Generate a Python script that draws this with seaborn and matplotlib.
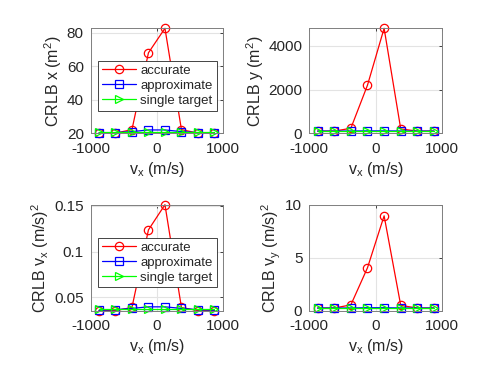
import numpy as np
import pandas as pd
import seaborn as sns
import matplotlib.pyplot as plt

# ==========================================
# DATA
# ==========================================
vx = [-875, -625, -375, -125, 125, 375, 625, 875]

crlb_x_accurate = [20.1, 20.1, 22.2, 68.0, 82.6, 22.2, 20.1, 20.1]
crlb_x_approx = [20.3, 20.4, 21.0, 22.0, 22.0, 21.0, 20.4, 20.3]
crlb_x_single = [20.6, 20.6, 20.6, 20.6, 20.6, 20.6, 20.6, 20.6]

crlb_y_accurate = [100, 100, 230, 2200, 4800, 200, 100, 100]
crlb_y_approx = [100, 100, 105, 110, 110, 105, 100, 100]
crlb_y_single = [100, 100, 100, 100, 100, 100, 100, 100]

crlb_vx_accurate = [0.0356, 0.0356, 0.0390, 0.1236, 0.1510, 0.0390, 0.0356, 0.0356]
crlb_vx_approx = [0.0360, 0.0366, 0.0380, 0.0397, 0.0397, 0.0380, 0.0366, 0.0360]
crlb_vx_single = [0.0370, 0.0370, 0.0370, 0.0370, 0.0370, 0.0370, 0.0370, 0.0370]

crlb_vy_accurate = [0.25, 0.25, 0.55, 4.05, 8.95, 0.5, 0.25, 0.25]
crlb_vy_approx = [0.25, 0.25, 0.26, 0.28, 0.28, 0.26, 0.25, 0.25]
crlb_vy_single = [0.25, 0.25, 0.25, 0.25, 0.25, 0.25, 0.25, 0.25]

series_names = ["accurate", "approximate", "single target"]

panels = [
    ("CRLB x (m$^2$)", [crlb_x_accurate, crlb_x_approx, crlb_x_single],
     (20, 82.6), [20, 40, 60, 80], ["20", "40", "60", "80"], True),
    ("CRLB y (m$^2$)", [crlb_y_accurate, crlb_y_approx, crlb_y_single],
     (0, 4800), [0, 2000, 4000], ["0", "2000", "4000"], False),
    ("CRLB v$_x$ (m/s)$^2$", [crlb_vx_accurate, crlb_vx_approx, crlb_vx_single],
     (0.0355, 0.151), [0.05, 0.1, 0.15], ["0.05", "0.1", "0.15"], True),
    ("CRLB v$_y$ (m/s)$^2$", [crlb_vy_accurate, crlb_vy_approx, crlb_vy_single],
     (0, 10), [0, 5, 10], ["0", "5", "10"], False),
]

# ==========================================
# STYLE (MATLAB-like look)
# ==========================================
sns.set_style("whitegrid", {
    "axes.edgecolor": "#7f7f7f",
    "grid.color": "#e3e3e3",
    "xtick.direction": "in",
    "ytick.direction": "in",
})
plt.rcParams["font.family"] = ["Liberation Sans", "DejaVu Sans"]
plt.rcParams["mathtext.fontset"] = "custom"
plt.rcParams["mathtext.rm"] = "Liberation Sans"
plt.rcParams["mathtext.it"] = "Liberation Sans:italic"
plt.rcParams["mathtext.default"] = "regular"

colors = ["#ff0000", "#0000ff", "#00ff00"]
markers = ["o", "s", ">"]

W, H = 498, 374
fig = plt.figure(figsize=(W / 100, H / 100), dpi=100)

# axes boxes in pixel coords: (left, top, right, bottom)
boxes = [
    (90.7, 28.3, 222.7, 133.3),
    (309.3, 28.3, 442.3, 133.3),
    (90.7, 204.7, 222.7, 310.7),
    (309.3, 204.7, 442.3, 310.7),
]

for (ylabel, series, ylim, yticks, yticklabels, show_legend), (l, t, r, b) in zip(panels, boxes):
    ax = fig.add_axes([l / W, (H - b) / H, (r - l) / W, (b - t) / H])
    for vals, name, c, m in zip(series, series_names, colors, markers):
        df = pd.DataFrame({"vx": vx, "crlb": vals})
        sns.lineplot(data=df, x="vx", y="crlb", ax=ax, color=c, marker=m,
                     markersize=6, mfc="none", mec=c, mew=0.9, linewidth=0.9,
                     label=name, clip_on=False)
    ax.set_xlim(-1000, 1000)
    ax.set_xticks([-1000, 0, 1000])
    ax.set_xticklabels(["-1000", "0", "1000"])
    ax.set_ylim(*ylim)
    ax.set_yticks(yticks)
    ax.set_yticklabels(yticklabels)
    ax.tick_params(labelsize=11, colors="#262626", length=2.5, width=0.6,
                   top=True, right=True)
    ax.tick_params(axis="x", pad=6)
    ax.tick_params(axis="y", pad=5)
    ax.set_xlabel("v$_x$ (m/s)", fontsize=11.5, color="#262626", labelpad=3)
    ax.set_ylabel(ylabel, fontsize=11.5, color="#262626", labelpad=2)
    for sp in ax.spines.values():
        sp.set_linewidth(0.7)
    if show_legend:
        leg = ax.legend(loc="upper left", bbox_to_anchor=(0.055, 0.69),
                        borderaxespad=0, fontsize=9.5, frameon=True,
                        fancybox=False, framealpha=1, edgecolor="#262626",
                        handlelength=2.6, handletextpad=0.3, labelspacing=0.2,
                        borderpad=0.3)
        leg.get_frame().set_linewidth(0.6)
    else:
        ax.get_legend().remove()

fig.savefig("out.png", dpi=100)
